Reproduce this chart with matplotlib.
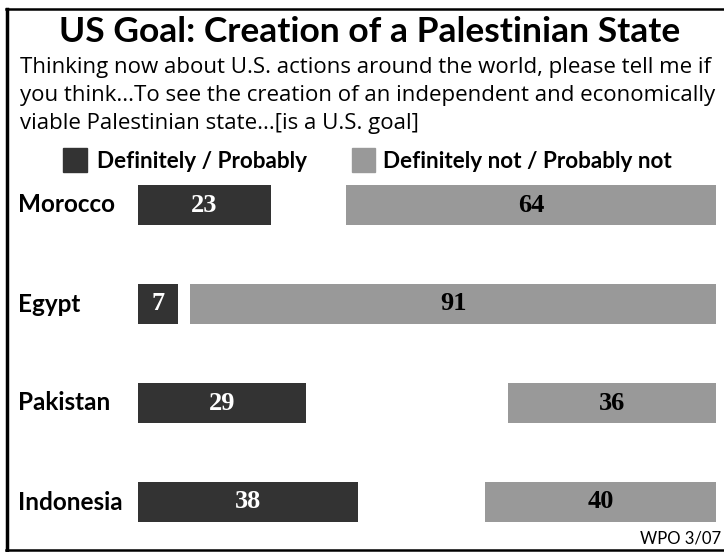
import matplotlib.pyplot as plt
from matplotlib.lines import Line2D
from matplotlib.patches import Rectangle
from matplotlib.transforms import blended_transform_factory

# Data
countries = ["Morocco", "Egypt", "Pakistan", "Indonesia"]
yes_vals = [23, 7, 29, 38]
no_vals = [64, 91, 36, 40]
series_names = ["Definitely / Probably", "Definitely not / Probably not"]

title = "US Goal: Creation of a Palestinian State"
subtitle = ["Thinking now about U.S. actions around the world, please tell me if",
            "you think...To see the creation of an independent and economically",
            "viable Palestinian state...[is a U.S. goal]"]
source = "WPO 3/07"

DARK = "#333333"
GREY = "#999999"
SANS = "Lato"
SERIF = "Liberation Serif"

W, H = 724, 552
fig = plt.figure(figsize=(W / 100, H / 100), dpi=100)


def fx(x):
    return x / W


def fy(y):
    return 1 - y / H


# frame: left, top and bottom rules (right side is cut off)
fig.add_artist(Line2D([fx(7), fx(7)], [fy(9), fy(550)], color="black", lw=2.5))
fig.add_artist(Line2D([fx(6), 1], [fy(9), fy(9)], color="black", lw=1.8))
fig.add_artist(Line2D([fx(6), 1], [fy(550), fy(550)], color="black", lw=1.8))

# title + question text
fig.text(fx(370), fy(42), title, ha="center", va="baseline",
         fontsize=25.5, fontweight="bold", family=SANS)
for i, line in enumerate(subtitle):
    fig.text(fx(20), fy(73 + 28 * i), line, ha="left", va="baseline",
             fontsize=16, family="Open Sans")

# legend
fig.add_artist(Rectangle((fx(63), fy(172)), fx(24), 24 / H, color=DARK))
fig.text(fx(97), fy(168), series_names[0], ha="left", va="baseline",
         fontsize=16.2, fontweight="bold", family=SANS)
fig.add_artist(Rectangle((fx(352), fy(172)), fx(23), 24 / H, color=GREY))
fig.text(fx(383), fy(168), series_names[1], ha="left", va="baseline",
         fontsize=16.2, fontweight="bold", family=SANS)

# bars
ax = fig.add_axes([fx(138), fy(551.5), fx(578), 396 / H])
ax.set_xlim(0, 100)
ax.set_ylim(len(countries) - 0.5, -0.5)
ax.axis("off")

pos = list(range(len(countries)))
bh = 0.405
ax.barh(pos, yes_vals, height=bh, color=DARK)
no_left = [100 - v for v in no_vals]
ax.barh(pos, no_vals, left=no_left, height=bh, color=GREY)

for p, v in zip(pos, yes_vals):
    ax.text(v / 2, p, str(v), ha="center", va="center", color="white",
            fontsize=19, fontweight="bold", family=SERIF)
for p, v, l in zip(pos, no_vals, no_left):
    ax.text(l + v / 2, p, str(v), ha="center", va="center", color="black",
            fontsize=19, fontweight="bold", family=SERIF)

tr = blended_transform_factory(fig.transFigure, ax.transData)
for p, name in zip(pos, countries):
    ax.text(fx(18), p, name, transform=tr, ha="left", va="center",
            fontsize=17.5, fontweight="bold", family=SANS)

fig.text(fx(721), fy(543), source, ha="right", va="baseline",
         fontsize=12, family=SANS)

plt.savefig("out.png", dpi=100)
